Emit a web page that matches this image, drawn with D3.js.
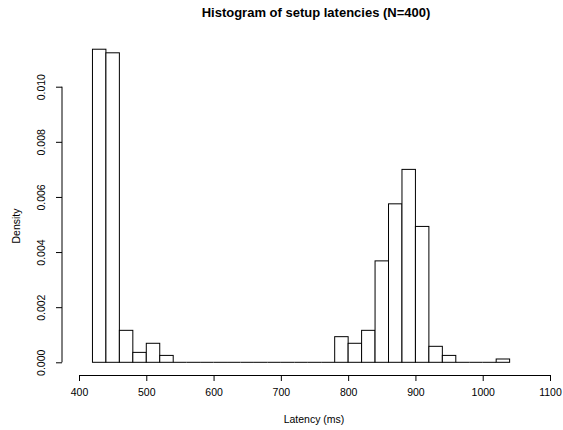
<!DOCTYPE html>
<html>
<head>
<meta charset="utf-8">
<script src="https://cdn.jsdelivr.net/npm/d3@7"></script>
<style>
  body { margin: 0; background: #fff; }
  svg { display: block; font-family: "Liberation Sans", Arial, Helvetica, sans-serif; }
  .bar { fill: #fff; stroke: #000; stroke-width: 1; }
  .flat { stroke: #000; stroke-width: 1; }
  .axis path, .axis line { stroke: #000; }
  .axis text { font-size: 10.5px; fill: #000; }
</style>
</head>
<body>
<div id="chart"></div>
<script>
// histogram bin edges (ms) and density per bin
const breaks = [420, 440, 460, 480, 500, 520, 540, 560, 580, 600, 620, 640, 660, 680, 700, 720,
                740, 760, 780, 800, 820, 840, 860, 880, 900, 920, 940, 960, 980, 1000, 1020, 1040];
const density = [0.01136, 0.01123, 0.00116, 0.00036, 0.00069, 0.00025,
                 0, 0, 0, 0, 0, 0, 0, 0, 0, 0, 0, 0,
                 0.00093, 0.00069, 0.00116, 0.00368, 0.00575, 0.00700, 0.00493, 0.00058, 0.00025,
                 0, 0, 0, 0.00012];
const xTicks = [400, 500, 600, 700, 800, 900, 1000, 1100];
const yTicks = [0, 0.002, 0.004, 0.006, 0.008, 0.010];

const width = 563, height = 430;

const svg = d3.select('#chart').append('svg')
    .attr('width', width)
    .attr('height', height);

const x = d3.scaleLinear().domain([400, 1100]).range([79, 550]);
const y = d3.scaleLinear().domain([0, 0.010]).range([362.3, 86.7]);

const bins = density.map((d, i) => ({x0: breaks[i], x1: breaks[i + 1], d: d}));

// bars
svg.append('g').selectAll('rect')
    .data(bins.filter(b => b.d > 0))
    .join('rect')
    .attr('class', 'bar')
    .attr('x', b => x(b.x0))
    .attr('width', b => x(b.x1) - x(b.x0))
    .attr('y', b => y(b.d))
    .attr('height', b => y(0) - y(b.d));

// empty bins: R still draws them, as a flat line on the baseline
svg.append('g').selectAll('line')
    .data(bins.filter(b => b.d === 0))
    .join('line')
    .attr('class', 'flat')
    .attr('x1', b => x(b.x0))
    .attr('x2', b => x(b.x1))
    .attr('y1', y(0))
    .attr('y2', y(0));

// x axis
svg.append('g')
    .attr('class', 'axis')
    .attr('transform', 'translate(0,375)')
    .call(d3.axisBottom(x).tickValues(xTicks).tickFormat(d3.format('d'))
        .tickSize(6).tickSizeOuter(0).tickPadding(8));

// y axis, labels rotated like R's las=0
const gy = svg.append('g')
    .attr('class', 'axis')
    .attr('transform', 'translate(62,0)')
    .call(d3.axisLeft(y).tickValues(yTicks).tickFormat(d3.format('.3f'))
        .tickSize(6).tickSizeOuter(0));
gy.select('.domain').remove();
gy.append('line')
    .attr('y1', y(0)).attr('y2', y(0.010))
    .attr('stroke', '#000');
gy.selectAll('.tick text')
    .attr('x', null).attr('dy', null)
    .attr('text-anchor', 'middle')
    .attr('transform', 'translate(-20,0) rotate(-90)')
    .attr('dominant-baseline', 'middle');

// titles
svg.append('text')
    .attr('x', 316).attr('y', 17)
    .attr('text-anchor', 'middle')
    .style('font-size', '13px')
    .style('font-weight', 'bold')
    .text('Histogram of setup latencies (N=400)');

svg.append('text')
    .attr('x', 314).attr('y', 423)
    .attr('text-anchor', 'middle')
    .style('font-size', '10.5px')
    .text('Latency (ms)');

svg.append('text')
    .attr('transform', 'translate(20,226) rotate(-90)')
    .attr('text-anchor', 'middle')
    .style('font-size', '10.5px')
    .text('Density');
</script>
</body>
</html>
